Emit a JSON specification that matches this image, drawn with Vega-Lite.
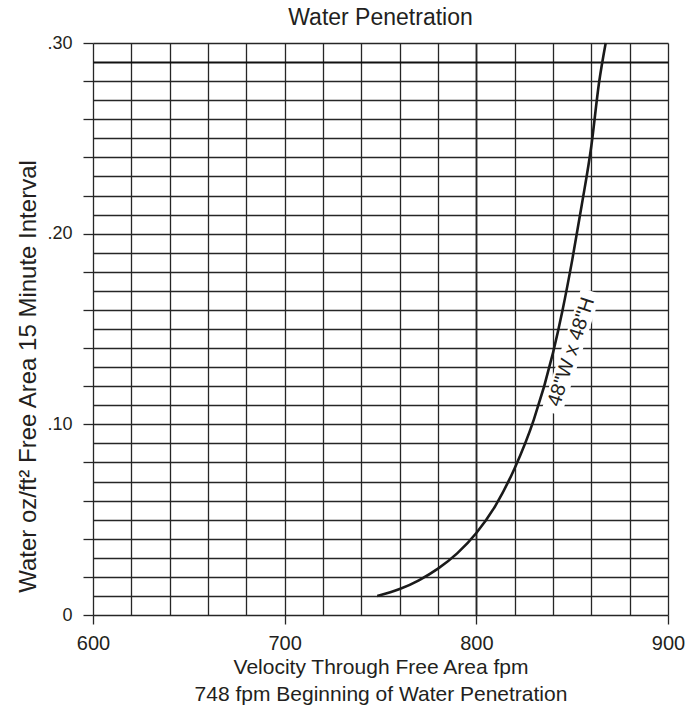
{
  "$schema": "https://vega.github.io/schema/vega-lite/v6.json",
  "autosize": "none",
  "width": 575,
  "height": 572,
  "padding": {"left": 93, "top": 43, "right": 25, "bottom": 92},
  "background": "white",
  "config": {"view": {"stroke": null}, "font": "Liberation Sans"},
  "title": {"text": "Water Penetration", "fontSize": 23, "font": "Liberation Sans", "fontWeight": "normal", "color": "#231f20", "offset": 4},
  "datasets": {
    "curve": [
      {"v": 748.3, "w": 0.0100},
      {"v": 760.0, "w": 0.0136},
      {"v": 770.0, "w": 0.0182},
      {"v": 780.0, "w": 0.0243},
      {"v": 790.0, "w": 0.0323},
      {"v": 800.0, "w": 0.0430},
      {"v": 810.0, "w": 0.0574},
      {"v": 820.0, "w": 0.0770},
      {"v": 830.0, "w": 0.1025},
      {"v": 840.0, "w": 0.1375},
      {"v": 845.0, "w": 0.1600},
      {"v": 850.0, "w": 0.1860},
      {"v": 855.0, "w": 0.2150},
      {"v": 860.0, "w": 0.2460},
      {"v": 864.0, "w": 0.2790},
      {"v": 867.5, "w": 0.3000}
    ],
    "label": [
      {"v": 849.5, "w": 0.138, "text": "48\"W x 48\"H"}
    ]
  },
  "layer": [
    {
      "data": {"name": "label"},
      "mark": {"type": "point", "shape": "M-1,-0.16L1,-0.16L1,0.16L-1,0.16Z", "filled": true, "color": "white", "opacity": 1, "angle": -72, "size": 16384},
      "encoding": {
        "x": {"field": "v", "type": "quantitative", "scale": {"domain": [600, 900], "nice": false, "zero": false},
          "axis": {
            "values": [600, 620, 640, 660, 680, 700, 720, 740, 760, 780, 800, 820, 840, 860, 880, 900],
            "tickCount": 200,
            "domain": false,
            "grid": true,
            "gridColor": "#262626",
            "gridOpacity": 1,
            "gridWidth": {"condition": {"test": "datum.value == 800", "value": 1.9}, "value": 1.3},
            "ticks": true,
            "tickSize": 9,
            "tickColor": "#262626",
            "tickWidth": 1.3,
            "tickOpacity": {"condition": {"test": "datum.value % 100 == 0", "value": 1}, "value": 0},
            "labelExpr": "datum.value % 100 == 0 ? datum.label : ''",
            "labelFontSize": 20,
            "labelFont": "Liberation Sans",
            "labelColor": "#231f20",
            "labelPadding": 9,
            "labelOverlap": false,
            "labelFlush": false,
            "labelBound": false,
            "title": ["Velocity Through Free Area fpm", "748 fpm Beginning of Water Penetration"],
            "titleFont": "Liberation Sans",
            "titleFontSize": 21,
            "titleFontWeight": "normal",
            "titleColor": "#231f20",
            "titleLineHeight": 27,
            "titlePadding": 3
          }
        },
        "y": {"field": "w", "type": "quantitative", "scale": {"domain": [0, 0.3], "nice": false, "zero": false},
          "axis": {
            "values": [0, 0.01, 0.02, 0.03, 0.04, 0.05, 0.06, 0.07, 0.08, 0.09, 0.1, 0.11, 0.12, 0.13, 0.14, 0.15, 0.16, 0.17, 0.18, 0.19, 0.2, 0.21, 0.22, 0.23, 0.24, 0.25, 0.26, 0.27, 0.28, 0.29, 0.3],
            "tickCount": 200,
            "domain": false,
            "grid": true,
            "gridColor": {"condition": {"test": "round(datum.value*100) == 29", "value": "#111111"}, "value": "#262626"},
            "gridOpacity": 1,
            "gridWidth": {"condition": {"test": "round(datum.value*100) == 29", "value": 1.9}, "value": 1.3},
            "ticks": true,
            "tickSize": 10,
            "tickColor": "#262626",
            "tickWidth": 1.3,
            "tickOpacity": {"condition": {"test": "round(datum.value*100) % 2 == 0", "value": 1}, "value": 0},
            "labelExpr": "round(datum.value*100) % 10 == 0 ? (datum.value == 0 ? '0' : replace(format(datum.value, '.2f'), '0.', '.')) : ''",
            "labelFontSize": 18,
            "labelFont": "Liberation Sans",
            "labelColor": "#231f20",
            "labelPadding": 11,
            "labelOverlap": false,
            "labelFlush": false,
            "labelBound": false,
            "title": "Water oz/ft² Free Area 15 Minute Interval",
            "titleFont": "Liberation Sans",
            "titleFontSize": 24,
            "titleFontWeight": "normal",
            "titleColor": "#231f20",
            "titleBaseline": "middle",
            "titleX": -65,
            "titleY": 333
          }
        }
      }
    },
    {
      "data": {"name": "curve"},
      "mark": {"type": "line", "interpolate": "monotone", "color": "#1a1a1a", "strokeWidth": 2.6},
      "encoding": {
        "x": {"field": "v", "type": "quantitative"},
        "y": {"field": "w", "type": "quantitative"}
      }
    },
    {
      "data": {"name": "label"},
      "mark": {"type": "text", "angle": -72, "fontSize": 20, "font": "Liberation Sans", "color": "#231f20", "align": "center", "baseline": "middle"},
      "encoding": {
        "x": {"field": "v", "type": "quantitative"},
        "y": {"field": "w", "type": "quantitative"},
        "text": {"field": "text"}
      }
    }
  ]
}
